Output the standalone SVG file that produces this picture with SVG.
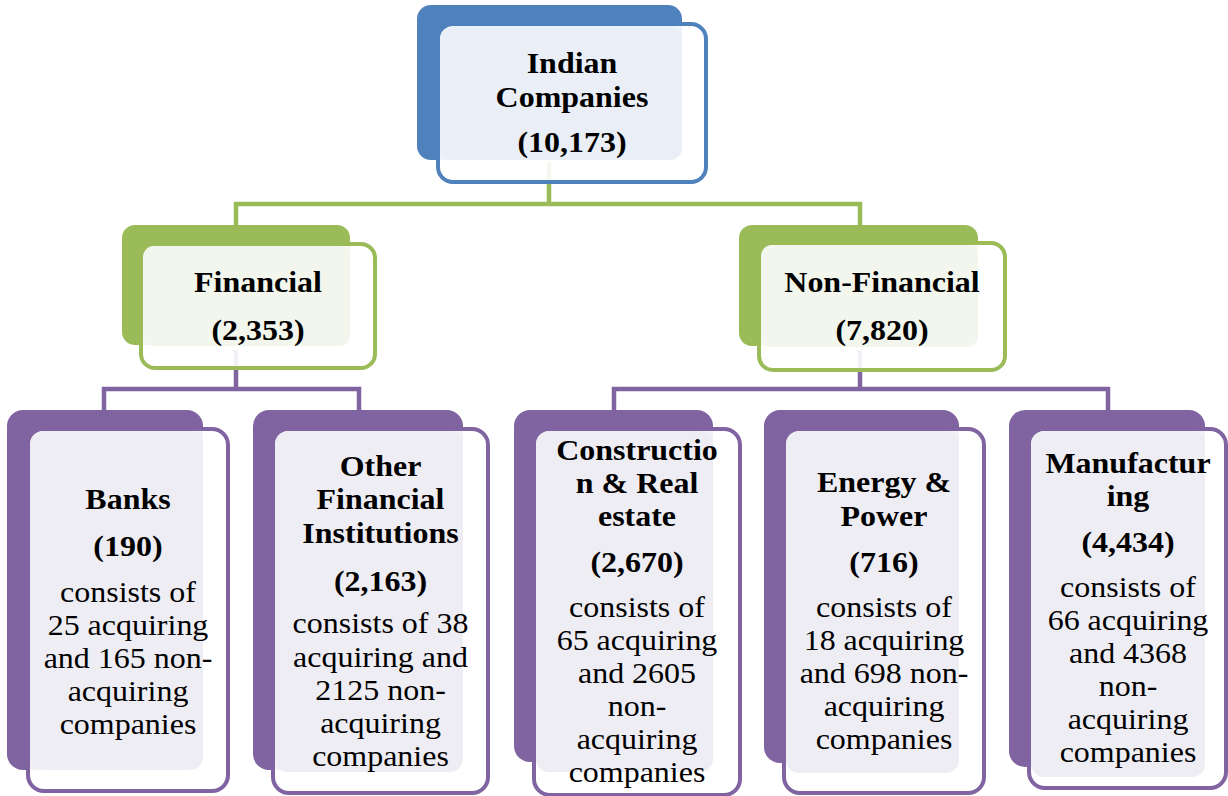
<svg xmlns="http://www.w3.org/2000/svg" width="1228" height="796" viewBox="0 0 1228 796">
  <style>
    .frame { fill: #ffffff; fill-opacity: 0.9; stroke-width: 4; }
    .blue .back { fill: #4f81bd; }
    .blue .frame { stroke: #4f81bd; }
    .blue .pane { fill: #eaeff7; }
    .green .back { fill: #9bbb59; }
    .green .frame { stroke: #9bbb59; }
    .green .pane { fill: #f2f6ec; }
    .purple .back { fill: #8064a2; }
    .purple .frame { stroke: #8064a2; }
    .purple .pane { fill: #efedf4; }
    .link { fill: none; stroke-width: 4.5; }
    .link-green { stroke: #9bbb59; }
    .link-purple { stroke: #8064a2; }
    text { font-family: "Liberation Serif", "Times New Roman", serif; font-size: 30px; fill: #000000; text-anchor: middle; }
    .b { font-weight: bold; }
  </style>

  <!-- connectors (drawn first so the translucent frames soften them) -->
  <g id="connectors">
    <path class="link link-green" d="M236 226 V204 H860 V226 M549 162 V204"/>
    <path class="link link-purple" d="M104 411 V389 H359 V411 M236 350 V389"/>
    <path class="link link-purple" d="M614 411 V389 H1108 V411 M860 350 V389"/>
  </g>

  <!-- root -->
  <g id="indian-companies" class="blue">
    <rect class="back" x="417" y="5" width="265" height="155" rx="14"/>
    <rect class="frame" x="438" y="24" width="268" height="158" rx="15"/>
    <rect class="pane" x="440" y="27" width="242" height="133" rx="12"/>
    <g transform="translate(572,0) scale(1.066,1)">
      <text class="b" x="0" y="73">Indian</text>
      <text class="b" x="0" y="107">Companies</text>
      <text class="b" x="0" y="152">(10,173)</text>
    </g>
  </g>

  <!-- second level -->
  <g id="financial" class="green">
    <rect class="back" x="122" y="225" width="228" height="120" rx="13"/>
    <rect class="frame" x="141" y="244" width="234" height="124" rx="14"/>
    <rect class="pane" x="143" y="246" width="207" height="100" rx="11"/>
    <g transform="translate(258,0) scale(1.066,1)">
      <text class="b" x="0" y="292">Financial</text>
      <text class="b" x="0" y="340">(2,353)</text>
    </g>
  </g>

  <g id="non-financial" class="green">
    <rect class="back" x="739" y="225" width="239" height="121" rx="13"/>
    <rect class="frame" x="759" y="243" width="246" height="127" rx="14"/>
    <rect class="pane" x="761" y="245" width="217" height="102" rx="11"/>
    <g transform="translate(882,0) scale(1.066,1)">
      <text class="b" x="0" y="292">Non-Financial</text>
      <text class="b" x="0" y="340">(7,820)</text>
    </g>
  </g>

  <!-- third level -->
  <g id="banks" class="purple">
    <rect class="back" x="7" y="410" width="196" height="360" rx="16"/>
    <rect class="frame" x="28" y="429" width="200" height="362" rx="16"/>
    <rect class="pane" x="30" y="431" width="173" height="339" rx="13"/>
    <g transform="translate(128,0) scale(1.066,1)">
      <text class="b" x="0" y="509">Banks</text>
      <text class="b" x="0" y="556">(190)</text>
      <text x="0" y="602">consists of</text>
      <text x="0" y="635">25 acquiring</text>
      <text x="0" y="668">and 165 non-</text>
      <text x="0" y="701">acquiring</text>
      <text x="0" y="734">companies</text>
    </g>
  </g>

  <g id="other-financial-institutions" class="purple">
    <rect class="back" x="253" y="410" width="210" height="360" rx="16"/>
    <rect class="frame" x="273" y="429" width="215" height="364" rx="16"/>
    <rect class="pane" x="275" y="431" width="188" height="341" rx="13"/>
    <g transform="translate(380.5,0) scale(1.066,1)">
      <text class="b" x="0" y="476">Other</text>
      <text class="b" x="0" y="509">Financial</text>
      <text class="b" x="0" y="543">Institutions</text>
      <text class="b" x="0" y="591">(2,163)</text>
      <text x="0" y="633">consists of 38</text>
      <text x="0" y="667">acquiring and</text>
      <text x="0" y="700">2125 non-</text>
      <text x="0" y="733">acquiring</text>
      <text x="0" y="766">companies</text>
    </g>
  </g>

  <g id="construction-real-estate" class="purple">
    <rect class="back" x="514" y="410" width="199" height="352" rx="16"/>
    <rect class="frame" x="534" y="429" width="206" height="366" rx="16"/>
    <rect class="pane" x="536" y="431" width="177" height="341" rx="13"/>
    <g transform="translate(637,0) scale(1.066,1)">
      <text class="b" x="0" y="460">Constructio</text>
      <text class="b" x="0" y="493">n &amp; Real</text>
      <text class="b" x="0" y="526">estate</text>
      <text class="b" x="0" y="572">(2,670)</text>
      <text x="0" y="617">consists of</text>
      <text x="0" y="650">65 acquiring</text>
      <text x="0" y="683">and 2605</text>
      <text x="0" y="716">non-</text>
      <text x="0" y="749">acquiring</text>
      <text x="0" y="782">companies</text>
    </g>
  </g>

  <g id="energy-power" class="purple">
    <rect class="back" x="764" y="410" width="195" height="353" rx="16"/>
    <rect class="frame" x="784" y="429" width="200" height="364" rx="16"/>
    <rect class="pane" x="786" y="431" width="173" height="342" rx="13"/>
    <g transform="translate(884,0) scale(1.066,1)">
      <text class="b" x="0" y="492">Energy &amp;</text>
      <text class="b" x="0" y="526">Power</text>
      <text class="b" x="0" y="572">(716)</text>
      <text x="0" y="617">consists of</text>
      <text x="0" y="650">18 acquiring</text>
      <text x="0" y="683">and 698 non-</text>
      <text x="0" y="716">acquiring</text>
      <text x="0" y="749">companies</text>
    </g>
  </g>

  <g id="manufacturing" class="purple">
    <rect class="back" x="1009" y="410" width="196" height="357" rx="16"/>
    <rect class="frame" x="1029" y="429" width="197" height="359" rx="16"/>
    <rect class="pane" x="1031" y="431" width="174" height="346" rx="13"/>
    <g transform="translate(1128,0) scale(1.066,1)">
      <text class="b" x="0" y="473">Manufactur</text>
      <text class="b" x="0" y="506">ing</text>
      <text class="b" x="0" y="552">(4,434)</text>
      <text x="0" y="597">consists of</text>
      <text x="0" y="630">66 acquiring</text>
      <text x="0" y="663">and 4368</text>
      <text x="0" y="696">non-</text>
      <text x="0" y="729">acquiring</text>
      <text x="0" y="762">companies</text>
    </g>
  </g>
</svg>
